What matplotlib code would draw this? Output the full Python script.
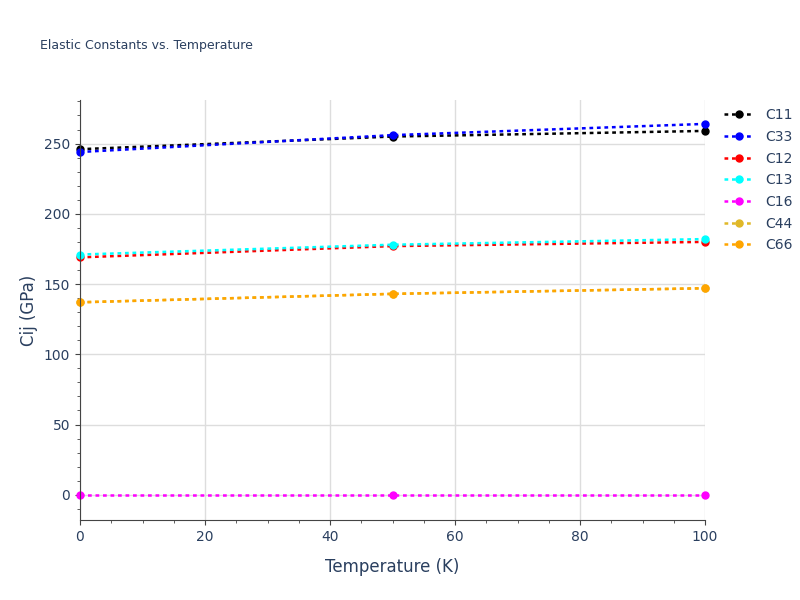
import matplotlib
matplotlib.use("Agg")
import matplotlib.pyplot as plt

temps = [0, 50, 100]
names = ["C11", "C33", "C12", "C13", "C16", "C44", "C66"]
C11 = [246, 255, 259]
C33 = [244, 256, 264]
C12 = [169, 177, 180]
C13 = [171, 178, 182]
C16 = [0, 0, 0]
C44 = [137, 143, 147]
C66 = [137, 143, 147]
series = [C11, C33, C12, C13, C16, C44, C66]
colors = ["black", "blue", "red", "cyan", "magenta", "#e0b828", "orange"]

fig = plt.figure(figsize=(8, 6), dpi=100)
ax = fig.add_axes([0.1, 0.1333, 0.78125, 0.7])
for n, s, c in zip(names, series, colors):
    ax.plot(temps, s, ls=(0, (1.5, 1.5)), lw=1.8, color=c, marker="o", ms=5, label=n, clip_on=False)

ax.set_xlim(0, 100)
ax.set_ylim(-18, 281)
ax.set_xticks([0, 20, 40, 60, 80, 100])
ax.set_yticks([0, 50, 100, 150, 200, 250])
ax.grid(True, color="#dddddd", lw=1)
ax.set_axisbelow(True)
for sp in ["top", "right"]:
    ax.spines[sp].set_visible(False)
for sp in ["left", "bottom"]:
    ax.spines[sp].set_color("#444444")
ax.minorticks_on()
ax.tick_params(which="both", colors="#444444", labelcolor="#2a3f5f", labelsize=10)
ax.set_xlabel("Temperature (K)", color="#2a3f5f", fontsize=12, labelpad=10)
ax.set_ylabel("Cij (GPa)", color="#2a3f5f", fontsize=12)
fig.text(0.05, 0.918, "Elastic Constants vs. Temperature", color="#2a3f5f", fontsize=9)
ax.legend(loc="upper left", bbox_to_anchor=(1.01, 1.01), frameon=False, labelcolor="#2a3f5f",
          fontsize=10, handlelength=2.2, labelspacing=0.55)
fig.savefig("out.png")
